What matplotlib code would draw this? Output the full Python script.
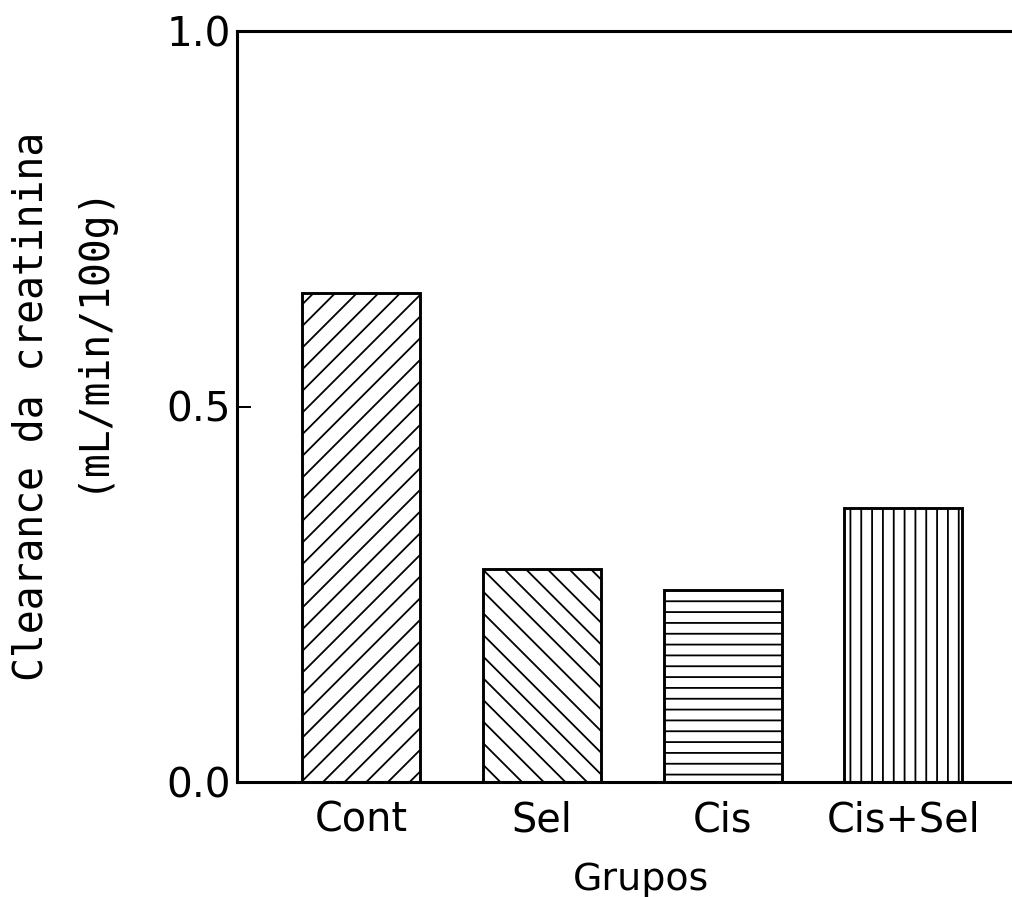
import matplotlib
matplotlib.use("Agg")
import matplotlib.pyplot as plt

# Data
groups = ["Cont", "Sel", "Cis", "Cis+Sel"]
values = [0.651, 0.283, 0.255, 0.365]
hatches = ["//", "\\\\", "--", "||"]
yticks = [0.0, 0.5, 1.0]
ytick_labels = ["0.0", "0.5", "1.0"]

DPI = 130
plt.rcParams["font.family"] = ["DejaVu Sans"]
plt.rcParams["hatch.linewidth"] = 1.0
plt.rcParams["hatch.color"] = "black"

fig = plt.figure(figsize=(1012 / DPI, 897 / DPI), dpi=DPI)
ax = fig.add_axes([237 / 1012, 1 - 782 / 897, (1027.5 - 237) / 1012, (782 - 31) / 897])

pos = list(range(1, len(groups) + 1))
for p, v, h in zip(pos, values, hatches):
    ax.bar(p, v, width=0.653, facecolor="white", edgecolor="black",
           linewidth=1.6, hatch=h, zorder=2)

ax.set_xlim(0.314, 4.686)
ax.set_ylim(0, 1.0)
ax.set_xticks(pos)
ax.set_xticklabels(groups, fontsize=22)
ax.set_yticks(yticks)
ax.set_yticklabels(ytick_labels, fontsize=22.5)
ax.tick_params(axis="x", length=0, pad=10)
ax.tick_params(axis="y", direction="in", length=7.5, width=1.1, pad=3.5)

for s in ["left", "top", "bottom"]:
    ax.spines[s].set_linewidth(1.7)
ax.spines["right"].set_visible(False)

fig.text(641 / 1012, 1 - 890 / 897, "Grupos", fontsize=21, ha="center", va="baseline")
fig.text(32 / 1012, 1 - 406 / 897, "Clearance da creatinina", fontsize=22,
         family="DejaVu Sans Mono", rotation=90, ha="center", va="center")
fig.text(91 / 1012, 1 - 337 / 897, "(mL/min/100g)", fontsize=22,
         family="DejaVu Sans Mono", rotation=90, ha="center", va="center")

fig.savefig("out.png", dpi=DPI)
